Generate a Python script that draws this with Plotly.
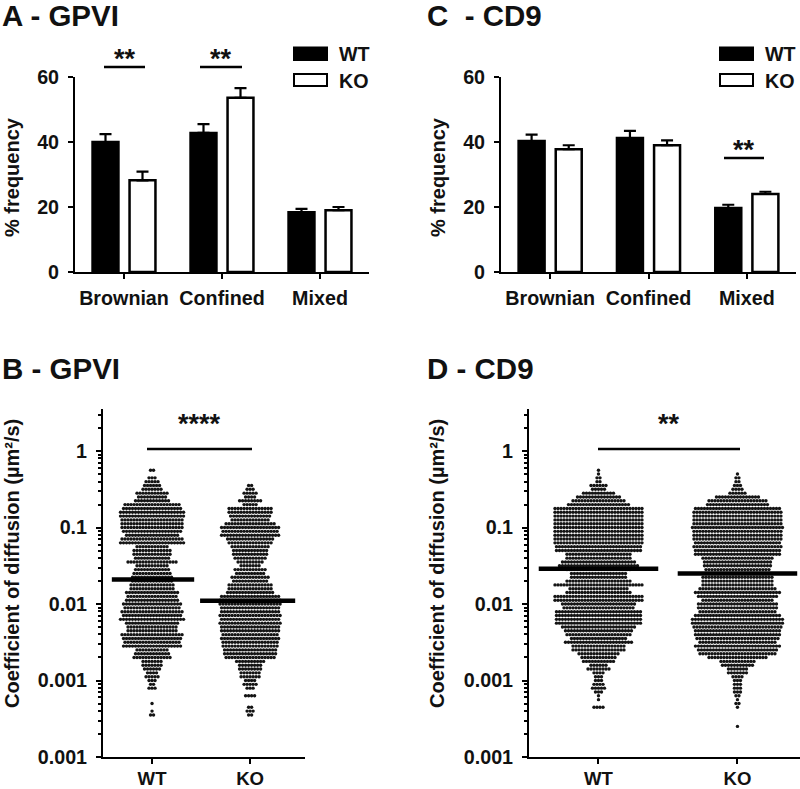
import plotly.graph_objects as go

W, H = 800, 789

CATEGORIES = ["Brownian", "Confined", "Mixed"]
GENOTYPES = ["WT", "KO"]

A_WT = [40.0, 42.8, 18.4]
A_WT_ERR = [2.4, 2.7, 1.0]
A_KO = [28.2, 53.6, 19.0]
A_KO_ERR = [2.7, 3.0, 1.0]

C_WT = [40.3, 41.2, 19.7]
C_WT_ERR = [2.0, 2.2, 1.0]
C_KO = [37.8, 39.0, 24.0]
C_KO_ERR = [1.2, 1.5, 0.7]

# Rows of the swarm: log10 of the diffusion coefficient, and dots counted per row
ROW_LOG10 = [
    -0.25, -0.30, -0.35, -0.40, -0.45, -0.50, -0.55, -0.60, -0.65, -0.70,
    -0.75, -0.80, -0.85, -0.90, -0.95, -1.00, -1.05, -1.10, -1.15, -1.20,
    -1.25, -1.30, -1.35, -1.40, -1.45, -1.50, -1.55, -1.60, -1.65, -1.70,
    -1.75, -1.80, -1.85, -1.90, -1.95, -2.00, -2.05, -2.10, -2.15, -2.20,
    -2.25, -2.30, -2.35, -2.40, -2.45, -2.50, -2.55, -2.60, -2.65, -2.70,
    -2.75, -2.80, -2.85, -2.90, -2.95, -3.00, -3.05, -3.10, -3.15, -3.20,
    -3.25, -3.30, -3.35, -3.40, -3.45, -3.50, -3.55, -3.60, -3.65, -3.70,
]
B_WT_COUNTS = [
    2, 0, 3, 5, 6, 7, 11, 10, 12, 19,
    20, 22, 22, 21, 21, 21, 20, 18, 21, 22,
    11, 13, 13, 12, 17, 11, 12, 13, 14, 14,
    15, 15, 18, 17, 18, 20, 19, 21, 20, 22,
    18, 17, 17, 21, 20, 19, 20, 11, 12, 13,
    7, 7, 6, 4, 5, 3, 2, 3, 0, 0,
    0, 1, 0, 1, 2, 0, 0, 0, 0, 0,
]
B_KO_COUNTS = [
    0, 0, 0, 0, 2, 3, 5, 4, 8, 5,
    15, 15, 14, 13, 17, 20, 19, 20, 16, 15,
    13, 12, 12, 11, 9, 7, 11, 10, 13, 12,
    15, 15, 16, 20, 21, 21, 20, 20, 21, 20,
    21, 20, 20, 19, 20, 19, 19, 18, 18, 17,
    10, 8, 8, 7, 7, 4, 5, 3, 0, 4,
    0, 0, 2, 3, 2, 0, 0, 0, 0, 0,
]
D_WT_COUNTS = [
    1, 1, 2, 2, 6, 5, 11, 15, 18, 21,
    30, 30, 30, 30, 30, 30, 30, 30, 30, 30,
    29, 29, 22, 22, 25, 27, 22, 19, 19, 22,
    30, 20, 22, 30, 30, 25, 24, 29, 29, 29,
    29, 25, 23, 22, 19, 23, 18, 18, 14, 12,
    11, 6, 8, 4, 3, 3, 4, 5, 3, 1,
    1, 0, 4, 0, 0, 0, 0, 0, 0, 0,
]
D_KO_COUNTS = [
    0, 1, 2, 2, 3, 4, 6, 15, 20, 21,
    29, 30, 30, 30, 30, 31, 30, 30, 30, 29,
    30, 29, 29, 24, 23, 23, 22, 22, 24, 24,
    24, 26, 29, 27, 24, 27, 27, 26, 29, 31,
    31, 30, 29, 29, 28, 26, 29, 27, 26, 20,
    12, 11, 7, 7, 4, 3, 3, 3, 3, 2,
    1, 2, 1, 0, 0, 0, 0, 1, 0, 0,
]
B_MEANS = [0.021, 0.011]
D_MEANS = [0.029, 0.025]

LOG_TICKS = [1, 0.1, 0.01, 0.001, 0.0001]
LOG_TICK_TEXT = ["1", "0.1", "0.01", "0.001", "0.001"]
MINOR_LOG_TICKS = [m * d for d in (0.0001, 0.001, 0.01, 0.1, 1) for m in range(2, 10) if m * d < 3.4]

FONT = "Liberation Sans"
INK = "#111111"


def px_x(x):
    return x / W


def px_y(y):
    return 1 - y / H


def tf(size):
    return dict(family=FONT, size=size, color=INK, weight=700)


fig = go.Figure()

PANELS = {
    "A": dict(x="x", y="y", ax="xaxis", ay="yaxis", dom_x=(75, 369), dom_y=(77, 272)),
    "C": dict(x="x2", y="y2", ax="xaxis2", ay="yaxis2", dom_x=(501, 796), dom_y=(77, 272)),
    "B": dict(x="x3", y="y3", ax="xaxis3", ay="yaxis3", dom_x=(103, 305), dom_y=(409, 757)),
    "D": dict(x="x4", y="y4", ax="xaxis4", ay="yaxis4", dom_x=(529, 800), dom_y=(409, 757)),
}


def add_bars(p, wt, wt_err, ko, ko_err):
    for name, vals, errs, fill in (("WT", wt, wt_err, "black"), ("KO", ko, ko_err, "white")):
        fig.add_trace(go.Bar(
            x=CATEGORIES, y=vals, name=name, xaxis=p["x"], yaxis=p["y"], showlegend=False,
            marker=dict(color=fill, line=dict(color="black", width=2.5)),
            error_y=dict(type="data", array=errs, arrayminus=[0, 0, 0], symmetric=False,
                         color="black", thickness=2.2, width=6),
        ))


def add_swarm(p, counts_by_group, means, cat_px, half_widths):
    pitch = 3.0 / cat_px
    for g, counts in enumerate(counts_by_group):
        xs, ys = [], []
        for lg, n in zip(ROW_LOG10, counts):
            for k in range(n):
                xs.append(g + (k - (n - 1) / 2) * pitch)
                ys.append(10 ** lg)
        fig.add_trace(go.Scatter(
            x=xs, y=ys, mode="markers", name=GENOTYPES[g], xaxis=p["x"], yaxis=p["y"], showlegend=False,
            marker=dict(color="#141414", size=3.4, line=dict(width=0)),
        ))
        fig.add_trace(go.Scatter(
            x=[g - half_widths[g][0], g + half_widths[g][1]], y=[means[g], means[g]], mode="lines",
            name=GENOTYPES[g] + " median", xaxis=p["x"], yaxis=p["y"], showlegend=False,
            line=dict(color="black", width=4.5),
        ))


add_bars(PANELS["A"], A_WT, A_WT_ERR, A_KO, A_KO_ERR)
add_bars(PANELS["C"], C_WT, C_WT_ERR, C_KO, C_KO_ERR)
add_swarm(PANELS["B"], [B_WT_COUNTS, B_KO_COUNTS], B_MEANS, 98, [(0.41, 0.43), (0.51, 0.46)])
add_swarm(PANELS["D"], [D_WT_COUNTS, D_KO_COUNTS], D_MEANS, 139, [(0.43, 0.43), (0.43, 0.43)])

axis_line = dict(showline=True, linecolor="black", linewidth=2, showgrid=False, zeroline=False, automargin=False,
                 ticks="outside", tickcolor="black", tickwidth=2, ticklen=5, tickfont=tf(19.7))

layout = dict(
    width=W, height=H, autosize=False, margin=dict(l=0, r=0, t=0, b=0),
    paper_bgcolor="white", plot_bgcolor="white", barmode="group", bargap=0.245, bargroupgap=0.3,
    showlegend=False,
)

for key in ("A", "C"):
    p = PANELS[key]
    layout[p["ax"]] = dict(axis_line, domain=[px_x(p["dom_x"][0]), px_x(p["dom_x"][1])], anchor=p["y"],
                           type="category", range=[-0.5, 2.5], categoryorder="array",
                           categoryarray=CATEGORIES, ticklabelstandoff=2)
    layout[p["ay"]] = dict(axis_line, domain=[px_y(p["dom_y"][1]), px_y(p["dom_y"][0])], anchor=p["x"],
                           range=[0, 60], tickvals=[0, 20, 40, 60], ticklabelstandoff=5)

for key, xmax in (("B", 1.56), ("D", 1.45)):
    p = PANELS[key]
    layout[p["ax"]] = dict(axis_line, domain=[px_x(p["dom_x"][0]), px_x(p["dom_x"][1])], anchor=p["y"],
                           range=[-0.5, xmax], tickvals=[0, 1], ticktext=GENOTYPES,
                           ticklabelstandoff=-1, tickfont=tf(18.6))
    layout[p["ay"]] = dict(axis_line, domain=[px_y(p["dom_y"][1]), px_y(p["dom_y"][0])], anchor=p["x"],
                           type="log", range=[-4, 0.55], tickmode="array", tickvals=LOG_TICKS,
                           ticktext=LOG_TICK_TEXT, ticklabelstandoff=5,
                           minor=dict(ticks="outside", ticklen=3, tickwidth=1.5, tickcolor="black",
                                      tickmode="array", tickvals=MINOR_LOG_TICKS))

annotations, shapes = [], []


def text(s, x, y, size, anchor="left", angle=0):
    annotations.append(dict(text=s, x=px_x(x), y=px_y(y), xref="paper", yref="paper", showarrow=False,
                            xanchor=anchor, yanchor="middle", textangle=angle, font=tf(size)))


def sig(x0, x1, y, stars, star_y, size=27):
    shapes.append(dict(type="line", xref="paper", yref="paper", x0=px_x(x0), x1=px_x(x1), y0=px_y(y), y1=px_y(y),
                       line=dict(color="black", width=2.5)))
    text(stars, (x0 + x1) / 2, star_y, size, anchor="center")


def legend(x0, x1, tx):
    for name, fill, y0, y1, ty in (("WT", "black", 47.5, 60, 54), ("KO", "white", 74, 86, 81)):
        shapes.append(dict(type="rect", xref="paper", yref="paper", x0=px_x(x0), x1=px_x(x1),
                           y0=px_y(y1), y1=px_y(y0), fillcolor=fill, line=dict(color="black", width=2)))
        text(name, tx, ty, 19.7)


text("A - GPVI", 0, 16, 29.5)
text("C  - CD9", 425, 16, 29.5)
text("B - GPVI", 0, 368, 29.5)
text("D - CD9", 425, 368, 29.5)

text("% frequency", 12, 177, 20, anchor="center", angle=-90)
text("% frequency", 438, 177, 20, anchor="center", angle=-90)
text("Coefficient of diffusion (µm²/s)", 12, 564, 20, anchor="center", angle=-90)
text("Coefficient of diffusion (µm²/s)", 437, 564, 20, anchor="center", angle=-90)

sig(104, 145, 67, "**", 59)
sig(200, 242, 67, "**", 59)
sig(724, 764, 158, "**", 150)
sig(147, 252, 449, "****", 424)
sig(598, 740, 449, "**", 424)

legend(294, 327, 337)
legend(720, 753, 763)

layout["annotations"] = annotations
layout["shapes"] = shapes
fig.update_layout(**layout)
fig.write_html("out.html", post_script="document.body.style.margin='0';", config=dict(displayModeBar=False))
